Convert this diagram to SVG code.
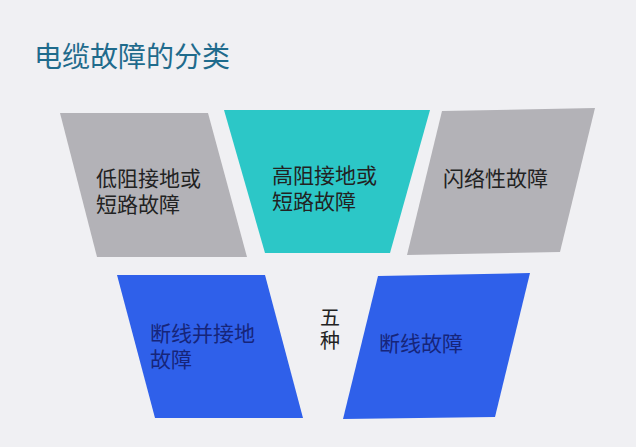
<svg xmlns="http://www.w3.org/2000/svg" width="636" height="447" viewBox="0 0 636 447">
  <style>
    text { font-family: "Liberation Sans", "Noto Sans CJK SC", sans-serif; }
    .title { font-size: 28px; fill: #1f6b8c; }
    .lbl { font-size: 21px; fill: #222; }
    .lblb { font-size: 21px; fill: #16257a; }
    .wz { font-size: 20px; fill: #222; }
    .gray { fill: #b3b2b7; }
    .teal { fill: #2cc7c7; }
    .blue { fill: #2f60ea; }
  </style>
  <rect width="636" height="447" fill="#f0f0f3"/>
  <text class="title" x="34" y="67">电缆故障的分类</text>
  <g id="connectors"></g>
  <g id="n1">
    <polygon class="gray" points="60,113 208,113 247,257 97,257"/>
    <text class="lbl" x="96" y="186">低阻接地或</text>
    <text class="lbl" x="96" y="212">短路故障</text>
  </g>
  <g id="n2">
    <polygon class="teal" points="224,110 430,110 390,253 265,253"/>
    <text class="lbl" x="272" y="183">高阻接地或</text>
    <text class="lbl" x="272" y="209">短路故障</text>
  </g>
  <g id="n3">
    <polygon class="gray" points="442,111 595,108 560,252 407,255"/>
    <text class="lbl" x="443" y="186">闪络性故障</text>
  </g>
  <g id="n4">
    <polygon class="blue" points="117,275 265,275 303,418 155,418"/>
    <text class="lblb" x="150" y="341">断线并接地</text>
    <text class="lblb" x="150" y="367">故障</text>
  </g>
  <g id="n5">
    <polygon class="blue" points="378,276 530,273 495,417 343,419"/>
    <text class="lblb" x="379" y="351">断线故障</text>
  </g>
  <g id="n6">
    <text class="wz" x="320" y="325">五</text>
    <text class="wz" x="320" y="348">种</text>
  </g>
</svg>
